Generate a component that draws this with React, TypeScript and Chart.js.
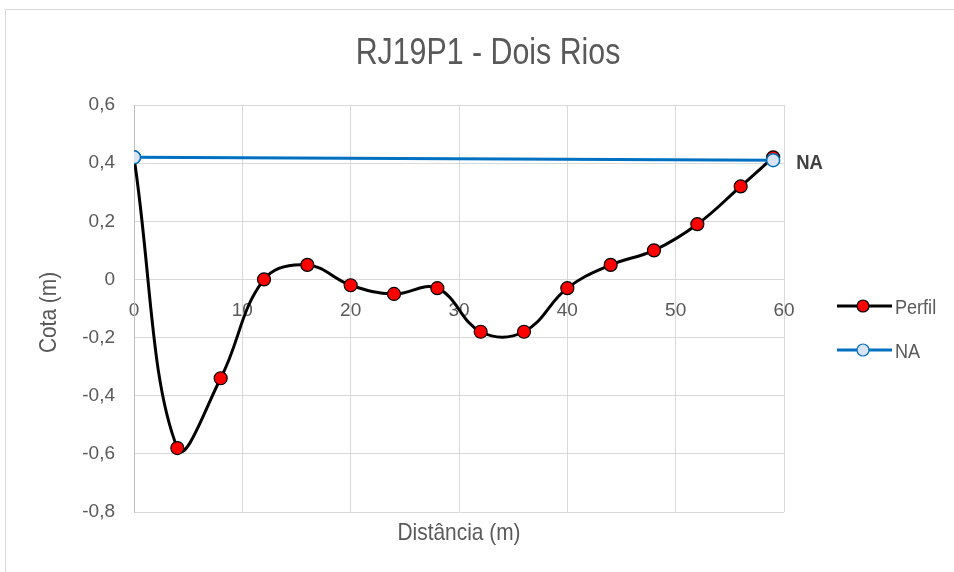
import { useEffect, useRef } from 'react';
import { Chart, registerables } from 'chart.js';
Chart.register(...registerables);

const chartTitle = 'RJ19P1 - Dois Rios';
const xTitle = 'Distância (m)';
const yTitle = 'Cota (m)';
const perfilX = [0, 4, 8, 12, 16, 20, 24, 28, 32, 36, 40, 44, 48, 52, 56, 59];
const perfilY = [0.42, -0.58, -0.34, 0, 0.05, -0.02, -0.05, -0.03, -0.18, -0.18, -0.03, 0.05, 0.1, 0.19, 0.32, 0.42];
const naX = [0, 59];
const naY = [0.42, 0.41];
const seriesNames = ['Perfil', 'NA'];
const naLabel = 'NA';

const FONT = "'Liberation Sans', Arial, sans-serif";
const TXT = '#595959';

function fmt(v: number) {
  const r = Math.round(v * 10) / 10;
  if (r === 0) return '0';
  return r.toFixed(1).replace('.', ',');
}

function drawText(ctx: any, text: string, x: number, y: number, font: string, sx: number, align: string, rot = 0) {
  ctx.save();
  ctx.translate(x, y);
  if (rot) ctx.rotate(rot);
  ctx.scale(sx, 1);
  ctx.font = font;
  ctx.textAlign = align;
  ctx.textBaseline = 'alphabetic';
  ctx.fillText(text, 0, 0);
  ctx.restore();
}

const decor = {
  id: 'decor',
  beforeDraw(chart: any) {
    const ctx = chart.ctx;
    ctx.save();
    ctx.strokeStyle = '#d9d9d9';
    ctx.lineWidth = 1;
    ctx.beginPath();
    ctx.moveTo(5.5, 2000);
    ctx.lineTo(5.5, 9.5);
    ctx.lineTo(2000, 9.5);
    ctx.stroke();
    ctx.restore();
  },
  afterDraw(chart: any) {
    const ctx = chart.ctx;
    const ca = chart.chartArea;
    ctx.save();
    ctx.fillStyle = TXT;
    drawText(ctx, chartTitle, 488, 64, `37px ${FONT}`, 0.82, 'center');
    drawText(ctx, xTitle, (ca.left + ca.right) / 2, 540, `24px ${FONT}`, 0.87, 'center');
    drawText(ctx, yTitle, 56, (ca.top + ca.bottom) / 2 + 4, `24px ${FONT}`, 0.87, 'center', -Math.PI / 2);

    // NA data label
    const xs = chart.scales.x;
    const ys = chart.scales.y;
    ctx.fillStyle = '#404040';
    drawText(ctx, naLabel, xs.getPixelForValue(naX[naX.length - 1]) + 23, ys.getPixelForValue(naY[naY.length - 1]) + 9, `bold 21px ${FONT}`, 0.88, 'left');

    // legend
    const items = [
      { name: seriesNames[0], line: '#000000', fill: '#ff0000', stroke: '#000000', y: 306 },
      { name: seriesNames[1], line: '#0070c0', fill: '#dae3f3', stroke: '#0070c0', y: 350 },
    ];
    for (const it of items) {
      ctx.strokeStyle = it.line;
      ctx.lineWidth = 3;
      ctx.beginPath();
      ctx.moveTo(837, it.y);
      ctx.lineTo(892, it.y);
      ctx.stroke();
      ctx.beginPath();
      ctx.arc(863, it.y, 6, 0, Math.PI * 2);
      ctx.fillStyle = it.fill;
      ctx.fill();
      ctx.lineWidth = 1.2;
      ctx.strokeStyle = it.stroke;
      ctx.stroke();
      ctx.fillStyle = TXT;
      drawText(ctx, it.name, 895, it.y + 8, `21px ${FONT}`, 0.86, 'left');
    }
    ctx.restore();
  },
};

export default function App() {
  const ref = useRef<HTMLCanvasElement>(null);
  useEffect(() => {
    const chart = new Chart(ref.current!, {
      type: 'line',
      data: {
        datasets: [
          {
            label: seriesNames[0],
            data: perfilX.map((x, i) => ({ x, y: perfilY[i] })),
            borderColor: '#000000',
            borderWidth: 3,
            pointBackgroundColor: '#ff0000',
            pointBorderColor: '#000000',
            pointBorderWidth: 1.2,
            pointRadius: 6.5,
            tension: 0.4,
            order: 1,
          },
          {
            label: seriesNames[1],
            data: naX.map((x, i) => ({ x, y: naY[i] })),
            borderColor: '#0070c0',
            borderWidth: 3,
            pointBackgroundColor: '#dae3f3',
            pointBorderColor: '#0070c0',
            pointBorderWidth: 1.5,
            pointRadius: 6.5,
            tension: 0,
            order: 0,
          },
        ],
      },
      options: {
        responsive: false,
        animation: false,
        layout: { padding: { left: 0, right: 170, top: 105, bottom: 60 } },
        plugins: { legend: { display: false }, tooltip: { enabled: false }, title: { display: false } },
        scales: {
          x: {
            type: 'linear',
            min: 0,
            max: 60,
            position: { y: 0 } as any,
            ticks: { stepSize: 10, color: TXT, font: { family: FONT, size: 19 }, padding: 20, maxRotation: 0 },
            grid: { color: '#d9d9d9', lineWidth: 1, drawTicks: false },
            border: { color: '#d9d9d9', width: 1 },
          },
          y: {
            type: 'linear',
            min: -0.8,
            max: 0.6,
            ticks: { stepSize: 0.2, color: TXT, font: { family: FONT, size: 19 }, padding: 19, callback: (v: any) => fmt(Number(v)) },
            grid: { color: '#d9d9d9', lineWidth: 1, drawTicks: false },
            border: { color: '#bfbfbf', width: 1 },
            afterFit: (s: any) => { s.width = 134; },
          },
        },
      },
      plugins: [decor],
    });
    return () => chart.destroy();
  }, []);
  return (
    <div style={{ position: 'fixed', left: 0, top: 0, width: 954, height: 572, background: '#fff' }}>
      <canvas ref={ref} width={954} height={572} style={{ display: 'block' }} />
    </div>
  );
}
